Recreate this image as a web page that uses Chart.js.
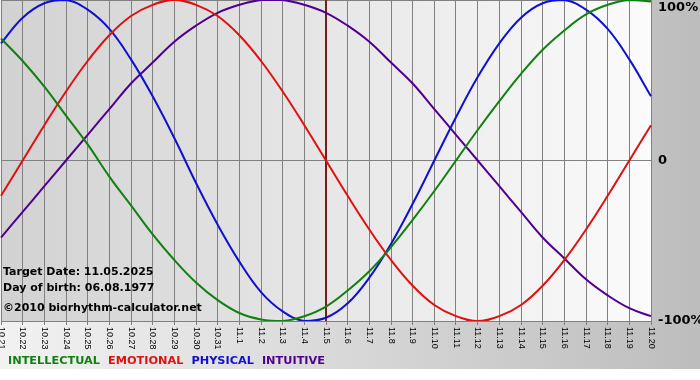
<!DOCTYPE html>
<html>
<head>
<meta charset="utf-8">
<script src="https://cdn.jsdelivr.net/npm/chart.js@4"></script>
<style>
  html, body { margin: 0; padding: 0; background: #fff; }
  #wrap { width: 700px; height: 380px; }
</style>
</head>
<body>
<div id="wrap"><canvas id="bio" width="700" height="380"></canvas></div>
<script>
// days shown (month.day)
const days = ['10.21','10.22','10.23','10.24','10.25','10.26','10.27','10.28','10.29','10.30','10.31',
    '11.1','11.2','11.3','11.4','11.5','11.6','11.7','11.8','11.9','11.10','11.11','11.12','11.13',
    '11.14','11.15','11.16','11.17','11.18','11.19','11.20']
const targetDay = '11.5'

// values in percent
const intellectual = [76, 62, 46, 28, 10, -10, -28, -46, -62, -76, -87, -95, -99, -100, -97, -91,
    -81, -69, -54, -37, -19, 0, 19, 37, 54, 69, 81, 91, 97, 100, 99]
const emotional = [-22, 0, 22, 43, 62, 78, 90, 97, 100, 97, 90, 78, 62, 43, 22, 0,
    -22, -43, -62, -78, -90, -97, -100, -97, -90, -78, -62, -43, -22, 0, 22]
const physical = [73, 89, 98, 100, 94, 82, 63, 40, 14, -14, -40, -63, -82, -94, -100, -98,
    -89, -73, -52, -27, 0, 27, 52, 73, 89, 98, 100, 94, 82, 63, 40]
const intuitive = [-48, -32, -16, 0, 16, 32, 48, 61, 74, 84, 92, 97, 100, 100, 97, 92,
    84, 74, 61, 48, 32, 16, 0, -16, -32, -48, -61, -74, -84, -92, -97]

const yTicks = [100, 0, -100]
const yTickLabels = ['100%', '0', '-100%']

const names = ['INTELLECTUAL', 'EMOTIONAL', 'PHYSICAL', 'INTUITIVE']
const colors = ['#108010', '#e01010', '#1010d0', '#500090']
const infoLines = ['Target Date: 11.05.2025', 'Day of birth: 06.08.1977', '\u00a92010 biorhythm-calculator.net']

const bgPlugin = {
    id: 'bg',
    beforeDraw(chart) {
        const ctx = chart.ctx
        const a = chart.chartArea
        ctx.save()
        ctx.fillStyle = '#ffffff'
        ctx.fillRect(0, 0, chart.width, chart.height)
        let g = ctx.createLinearGradient(0, 0, chart.width, 0)
        g.addColorStop(0, '#f2f2f2')
        g.addColorStop(1, '#bdbdbd')
        ctx.fillStyle = g
        ctx.fillRect(0, 0, chart.width, 369)
        g = ctx.createLinearGradient(a.left, 0, a.right, 0)
        g.addColorStop(0, '#d2d2d2')
        g.addColorStop(1, '#fbfbfb')
        ctx.fillStyle = g
        ctx.fillRect(a.left, a.top, a.right - a.left, a.bottom - a.top)
        ctx.restore()
    }
}

const textPlugin = {
    id: 'texts',
    beforeDatasetsDraw(chart) {
        // marker for target day
        const ctx = chart.ctx
        const a = chart.chartArea
        const x = chart.scales.x.getPixelForValue(days.indexOf(targetDay))
        ctx.save()
        ctx.strokeStyle = '#7a1c1c'
        ctx.lineWidth = 2
        ctx.beginPath()
        ctx.moveTo(x, a.top)
        ctx.lineTo(x, a.bottom)
        ctx.stroke()
        ctx.restore()
    },
    afterDraw(chart) {
        const ctx = chart.ctx
        const xs = chart.scales.x
        const ys = chart.scales.y
        const a = chart.chartArea
        ctx.save()
        // x labels, turned clockwise
        ctx.fillStyle = '#000'
        ctx.font = '9px "Liberation Sans"'
        ctx.textAlign = 'left'
        ctx.textBaseline = 'middle'
        days.forEach((d, i) => {
            ctx.save()
            ctx.translate(xs.getPixelForValue(i), a.bottom + 6)
            ctx.rotate(Math.PI / 2)
            ctx.fillText(d, 0, 0)
            ctx.restore()
        })
        // right axis labels
        ctx.font = 'bold 13px "DejaVu Sans"'
        yTicks.forEach((v, i) => {
            ctx.fillText(yTickLabels[i], a.right + 7, Math.min(Math.max(ys.getPixelForValue(v), 8), a.bottom + 1))
        })
        // info block
        ctx.font = 'bold 11px "DejaVu Sans"'
        ctx.fillText(infoLines[0], 3, 272)
        ctx.fillText(infoLines[1], 3, 288)
        ctx.fillText(infoLines[2], 3, 308)
        // legend
        ctx.font = 'bold 11.3px "DejaVu Sans"'
        let lx = 8
        names.forEach((n, i) => {
            ctx.fillStyle = colors[i]
            ctx.fillText(n, lx, 361)
            lx += ctx.measureText(n).width + 8
        })
        ctx.restore()
    }
}

const series = [intellectual, emotional, physical, intuitive]
new Chart(document.getElementById('bio'), {
    type: 'line',
    data: {
        labels: days,
        datasets: series.map((s, i) => ({
            label: names[i],
            data: s,
            borderColor: colors[i],
            borderWidth: 2,
            pointRadius: 0,
            fill: false,
            tension: 0.4
        }))
    },
    options: {
        responsive: false,
        animation: false,
        layout: {padding: {left: 1, top: 0, right: 49, bottom: 55}},
        plugins: {legend: {display: false}, tooltip: {enabled: false}},
        scales: {
            x: {
                offset: false,
                border: {display: false},
                grid: {color: '#808080', lineWidth: 1, drawTicks: true, tickLength: 4},
                ticks: {display: false}
            },
            y: {
                min: -100,
                max: 100,
                position: 'right',
                border: {display: false},
                afterBuildTicks: s => { s.ticks = yTicks.map(v => ({value: v})) },
                grid: {color: '#808080', lineWidth: 1, drawTicks: false},
                ticks: {display: false}
            }
        }
    },
    plugins: [bgPlugin, textPlugin]
})
</script>
</body>
</html>
